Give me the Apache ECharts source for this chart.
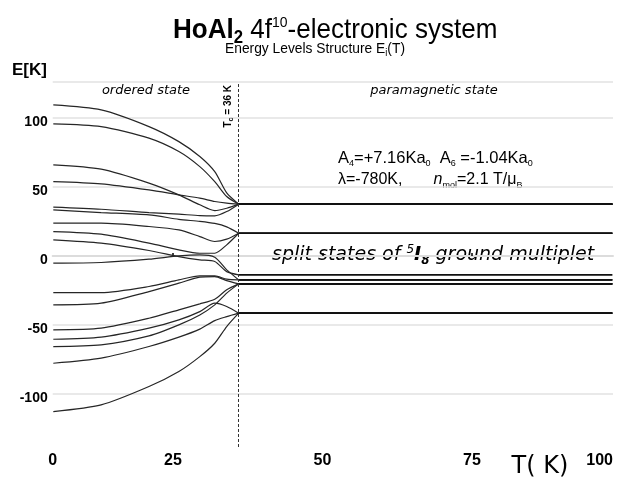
<!DOCTYPE html>
<html>
<head>
<meta charset="utf-8">
<script src="https://cdn.jsdelivr.net/npm/echarts@6/dist/echarts.min.js"></script>
<style>
  html, body { margin: 0; padding: 0; background: #fff; }
  #chart { width: 632px; height: 483px; }
</style>
</head>
<body>
<div id="chart"></div>
<script>
// Temperature grid (K): ordered phase up to T_c, then the paramagnetic plateau
const temperature = [5, 13, 21, 26, 29.5, 32, 34, 36, 98.5];

// Energies E_i(T) in K of the 17 states of the 5I8 multiplet
const level1  = [109.4, 105.8, 93.7, 82.8, 72.0, 61.0, 45.6, 37.5, 37.5];
const level2  = [95.7, 93.7, 85.3, 75.6, 64.7, 53.8, 43.0, 37.5, 37.5];
const level3  = [65.9, 62.8, 52.7, 44.2, 37.0, 32.8, 34.5, 37.5, 37.5];
const level4  = [53.8, 52.2, 47.8, 44.2, 41.8, 39.4, 38.2, 37.5, 37.5];
const level5  = [35.3, 33.8, 31.4, 30.2, 29.2, 29.0, 32.1, 37.5, 37.5];
const level6  = [33.3, 31.4, 29.7, 26.5, 25.0, 23.5, 21.0, 16.4, 16.4];
const level7  = [23.7, 23.7, 21.3, 18.8, 14.0, 10.4, 12.1, 16.4, 16.4];
const level8  = [17.6, 15.7, 9.2, 4.3, 1.9, 1.9, 8.0, 16.4, 16.4];
const level9  = [11.6, 9.2, 3.9, -0.5, -2.9, -4.1, -11.4, -13.8, -13.8];
const level10 = [-5.3, -4.8, -2.4, 0.0, 0.7, -1.0, -10.1, -17.4, -17.4];
const level11 = [-26.6, -26.6, -22.2, -17.4, -14.5, -14.5, -16.9, -17.4, -17.4];
const level12 = [-35.5, -34.3, -25.9, -19.8, -15.4, -15.0, -17.9, -20.3, -20.3];
const level13 = [-53.6, -52.4, -45.2, -39.1, -34.8, -31.4, -24.6, -20.3, -20.3];
const level14 = [-60.4, -58.9, -52.4, -46.4, -40.4, -34.3, -36.7, -41.5, -41.5];
const level15 = [-65.7, -64.5, -58.0, -50.0, -42.8, -35.5, -27.0, -20.3, -20.3];
const level16 = [-77.8, -74.1, -65.7, -58.9, -53.1, -46.9, -44.0, -41.5, -41.5];
const level17 = [-112.8, -108.0, -94.7, -83.8, -73.0, -63.3, -51.2, -41.5, -41.5];

// Axis ticks and labels
const yTickValues = [-100, -50, 0, 50, 100];
const yGridValues = [-100, -50, 0, 50, 100, 126];
const xTickValues = [25, 50, 75];
const xEndLabels = ['0', '100'];
const curieTemperature = 36;

const xMin = 4.9, xMax = 98.6;
const yMin = -138.5, yMax = 126;

const levels = [level1, level2, level3, level4, level5, level6, level7, level8, level9,
                level10, level11, level12, level13, level14, level15, level16, level17];

const sans = '"Liberation Sans", Arial, sans-serif';
const verdana = '"DejaVu Sans", Verdana, sans-serif';

// index of T_c in the temperature grid: ordered branch ends there, plateau starts there
const tcIndex = temperature.indexOf(curieTemperature);

const series = [];
levels.forEach((vals, i) => {
  const pts = temperature.map((t, k) => [t, vals[k]]);
  series.push({
    type: 'line',
    name: 'E' + (i + 1) + ' ordered',
    data: pts.slice(0, tcIndex + 1),
    showSymbol: false,
    smooth: 0.25,
    silent: true,
    animation: false,
    lineStyle: { color: '#262626', width: 1.2 },
    z: 3
  });
  series.push({
    type: 'line',
    name: 'E' + (i + 1) + ' paramagnetic',
    data: pts.slice(tcIndex),
    showSymbol: false,
    silent: true,
    animation: false,
    lineStyle: { color: '#111', width: 1.7 },
    z: 3
  });
});

// Dotted marker at the ordering temperature
series[0].markLine = {
  silent: true,
  symbol: ['none', 'none'],
  animation: false,
  lineStyle: { color: '#333', type: [3, 2], width: 1 },
  label: {
    show: true,
    position: 'insideEndTop',
    distance: [3, 4],
    formatter: '{t|T}{c|c}{t| = 36 K}',
    rich: {
      t: { fontFamily: sans, fontWeight: 'bold', fontSize: 10, color: '#000' },
      c: { fontFamily: sans, fontWeight: 'bold', fontSize: 7, color: '#000', padding: [6, 0, 0, 0] }
    }
  },
  data: [{ xAxis: curieTemperature }]
};

const chart = echarts.init(document.getElementById('chart'), null, { renderer: 'canvas' });

chart.setOption({
  animation: false,
  backgroundColor: '#fff',
  grid: { left: 52.7, right: 19, top: 82, bottom: 36, containLabel: false },
  xAxis: {
    type: 'value',
    min: xMin,
    max: xMax,
    axisLine: { show: true, lineStyle: { color: '#dcdcdc', width: 2 } },
    axisTick: { show: true, customValues: xTickValues, length: 3, inside: true,
                lineStyle: { color: '#000', width: 1.5 } },
    splitLine: { show: false },
    axisLabel: {
      customValues: [xMin].concat(xTickValues, [xMax]),
      formatter: v => v === xMin ? xEndLabels[0] : (v === xMax ? xEndLabels[1] : String(v)),
      alignMaxLabel: 'right',
      fontFamily: sans,
      fontWeight: 'bold',
      fontSize: 16,
      color: '#000',
      margin: 6
    }
  },
  yAxis: {
    type: 'value',
    min: yMin,
    max: yMax,
    axisLine: { show: false },
    axisTick: { show: false, customValues: yGridValues },
    splitLine: { show: true, lineStyle: { color: '#e2e2e2', width: 1.5 } },
    axisLabel: {
      customValues: yTickValues,
      formatter: v => '{v|' + v + '}',
      rich: {
        v: { fontFamily: sans, fontWeight: 'bold', fontSize: 14, color: '#000',
             lineHeight: 22, verticalAlign: 'bottom' }
      },
      margin: 5
    }
  },
  graphic: [
    {
      type: 'text', x: 173, y: 30, scaleX: 0.93,
      style: {
        text: '{b|HoAl}{s|2}{r| 4f}{p|10}{r|-electronic system}',
        verticalAlign: 'middle',
        fill: '#000',
        rich: {
          b: { fontFamily: sans, fontWeight: 'bold', fontSize: 28, fill: '#000' },
          s: { fontFamily: sans, fontWeight: 'bold', fontSize: 18, fill: '#000', padding: [16, 0, 0, 0] },
          r: { fontFamily: sans, fontSize: 28, fill: '#000' },
          p: { fontFamily: sans, fontSize: 15, fill: '#000', padding: [0, 0, 14, 0] }
        }
      }
    },
    {
      type: 'text', x: 225, y: 49, scaleX: 0.92,
      style: {
        text: '{r|Energy Levels Structure E}{s|i}{r|(T)}',
        verticalAlign: 'middle',
        fill: '#000',
        rich: {
          r: { fontFamily: sans, fontSize: 15, fill: '#000' },
          s: { fontFamily: sans, fontSize: 10, fill: '#000', padding: [9, 0, 0, 0] }
        }
      }
    },
    {
      type: 'text', x: 12, y: 70,
      style: { text: 'E[K]', font: 'bold 17px ' + sans, fill: '#000', verticalAlign: 'middle' }
    },
    {
      type: 'text', x: 146, y: 91,
      style: { text: 'ordered state', font: 'italic 13px ' + verdana, fill: '#000',
               align: 'center', verticalAlign: 'middle' }
    },
    {
      type: 'text', x: 434, y: 91,
      style: { text: 'paramagnetic state', font: 'italic 13px ' + verdana, fill: '#000',
               align: 'center', verticalAlign: 'middle' }
    },
    {
      type: 'text', x: 338, y: 158,
      style: {
        text: '{r|A}{s|4}{r|=+7.16Ka}{s|0}{r|  A}{s|6}{r| =-1.04Ka}{s|0}',
        verticalAlign: 'middle',
        fill: '#000',
        rich: {
          r: { fontFamily: sans, fontSize: 16.5, fill: '#000' },
          s: { fontFamily: sans, fontSize: 9, fill: '#000', padding: [12, 0, 0, 0] }
        }
      }
    },
    {
      type: 'text', x: 338, y: 180,
      style: {
        text: '{r|\u03bb=-780K,       }{i|n}{s|mol}{r|=2.1 T/\u03bc}{s|B}',
        verticalAlign: 'middle',
        fill: '#000',
        rich: {
          r: { fontFamily: sans, fontSize: 16, fill: '#000' },
          i: { fontFamily: sans, fontStyle: 'italic', fontSize: 16, fill: '#000' },
          s: { fontFamily: sans, fontSize: 9, fill: '#000', padding: [12, 0, 0, 0] }
        }
      }
    },
    {
      type: 'text', x: 272, y: 255,
      style: {
        text: '{r|split states of }{p|5}{b|I}{s|8}{r| ground multiplet}',
        verticalAlign: 'middle',
        fill: '#000',
        rich: {
          r: { fontFamily: verdana, fontStyle: 'italic', fontSize: 19, fill: '#000' },
          p: { fontFamily: verdana, fontStyle: 'italic', fontSize: 12, fill: '#000', padding: [0, 0, 10, 0] },
          b: { fontFamily: verdana, fontStyle: 'italic', fontWeight: 'bold', fontSize: 19, fill: '#000' },
          s: { fontFamily: verdana, fontStyle: 'italic', fontWeight: 'bold', fontSize: 12, fill: '#000', padding: [12, 0, 0, 0] }
        }
      }
    },
    {
      type: 'text', x: 540, y: 467,
      style: { text: 'T( K)', font: '24px ' + verdana, fill: '#000',
               align: 'center', verticalAlign: 'middle' }
    }
  ],
  series: series
});
</script>
</body>
</html>
